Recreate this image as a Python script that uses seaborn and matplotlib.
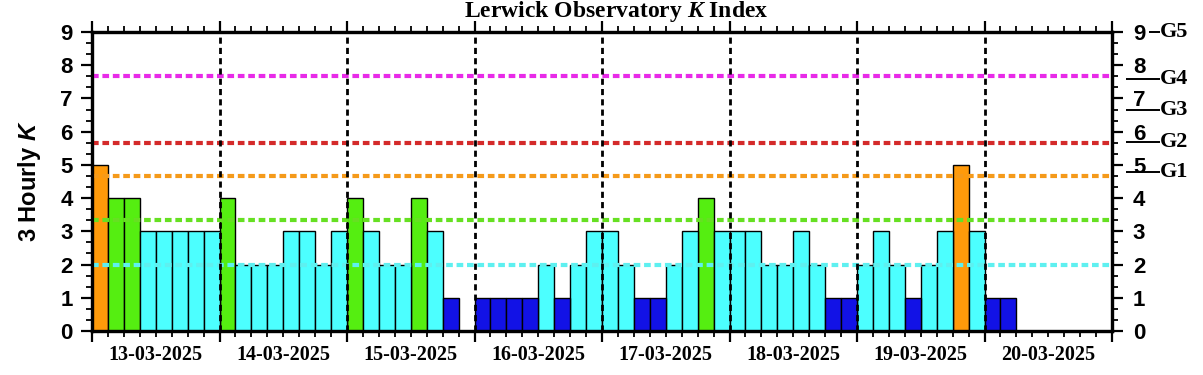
import numpy as np
import pandas as pd
import matplotlib
matplotlib.use("Agg")
import matplotlib.pyplot as plt
import seaborn as sns
from matplotlib.ticker import MultipleLocator

# ---------------- data ----------------
day_labels = ["13-03-2025", "14-03-2025", "15-03-2025", "16-03-2025",
              "17-03-2025", "18-03-2025", "19-03-2025", "20-03-2025"]
k_13 = [5, 4, 4, 3, 3, 3, 3, 3]
k_14 = [4, 2, 2, 2, 3, 3, 2, 3]
k_15 = [4, 3, 2, 2, 4, 3, 1, None]
k_16 = [1, 1, 1, 1, 2, 1, 2, 3]
k_17 = [3, 2, 1, 1, 2, 3, 4, 3]
k_18 = [3, 3, 2, 2, 3, 2, 1, 1]
k_19 = [2, 3, 2, 1, 2, 3, 5, 3]
k_20 = [1, 1]
k_by_day = [k_13, k_14, k_15, k_16, k_17, k_18, k_19, k_20]

threshold_levels = [2.0, 3.33, 4.67, 5.67, 7.67]
threshold_colors = ["#5ef0f0", "#66e022", "#f59a1a", "#d42a2a", "#e82ae8"]

g_labels = ["G1", "G2", "G3", "G4", "G5"]
g_levels = [4.8, 5.7, 6.65, 7.6, 9.0]

class_colors = {"quiet": "#1212e6", "unsettled": "#4cffff",
                "active": "#55ee11", "storm": "#ff9a0a"}


def k_class(k):
    if k <= 1:
        return "quiet"
    if k <= 3:
        return "unsettled"
    if k == 4:
        return "active"
    return "storm"


rows = []
for d, ks in enumerate(k_by_day):
    for s, k in enumerate(ks):
        if k is None:
            continue
        rows.append({"hour": d * 24 + s * 3 + 1.5, "k": k, "cls": k_class(k)})
df = pd.DataFrame(rows)

# ---------------- style ----------------
sns.set_theme(style="white")
plt.rcParams["font.family"] = ["Liberation Sans", "DejaVu Sans"]
plt.rcParams["text.color"] = "black"
plt.rcParams["axes.labelcolor"] = "black"
plt.rcParams["xtick.color"] = "black"
plt.rcParams["ytick.color"] = "black"
plt.rcParams["mathtext.fontset"] = "custom"
plt.rcParams["mathtext.it"] = "Liberation Serif:italic:bold"
plt.rcParams["mathtext.bfit"] = "Liberation Sans:italic:bold"
plt.rcParams["mathtext.rm"] = "Liberation Serif:bold"

W, H = 1203, 375
fig = plt.figure(figsize=(W / 100, H / 100), dpi=100)
fig.patch.set_facecolor("white")
left, right, top, bottom = 92, 1112, 32, 331
ax = fig.add_axes([left / W, 1 - bottom / H, (right - left) / W, (bottom - top) / H])

sns.barplot(data=df, x="hour", y="k", hue="cls", palette=class_colors,
            native_scale=True, dodge=False, width=1.0, saturation=1,
            edgecolor="black", linewidth=1.0, legend=False, ax=ax, zorder=2)

ax.set_xlim(0, 192)
ax.set_ylim(0, 9)
ax.set_xlabel("")

for lvl, c in zip(threshold_levels, threshold_colors):
    ax.axhline(lvl, color=c, lw=3, dashes=(1.6, 0.9), zorder=5)

for d in range(1, len(day_labels)):
    ax.axvline(d * 24, color="black", lw=2.0, dashes=(2.2, 1.5), zorder=6)

ax.xaxis.set_major_locator(MultipleLocator(24))
ax.xaxis.set_minor_locator(MultipleLocator(3))
ax.yaxis.set_major_locator(MultipleLocator(1))
ax.yaxis.set_minor_locator(MultipleLocator(1 / 3))
ax.tick_params(axis="both", which="major", direction="out", length=8, width=1.6,
               top=True, bottom=True, left=True, right=False, labelbottom=False,
               pad=6, labelsize=16, color="black", labelcolor="black")
ax.tick_params(axis="both", which="minor", direction="out", length=4.3, width=1.3,
               top=True, bottom=True, left=True, right=False, color="black")
for lab in ax.get_yticklabels():
    lab.set_fontweight("bold")

for sp in ax.spines.values():
    sp.set_linewidth(2.3)
    sp.set_color("black")

ax.set_ylabel(r"3 Hourly $\mathbfit{K}$", fontsize=17, fontweight="bold",
              color="black")
ax.yaxis.set_label_coords(-0.048, 0.5)

for i, lab in enumerate(day_labels):
    ax.text(12 + 24 * i, -(355 - bottom) / (bottom - top), lab,
            transform=ax.get_xaxis_transform(), ha="center", va="center",
            fontsize=14.5, fontweight="bold", family="Liberation Serif",
            color="black")

# right axis
ax2 = ax.twinx()
ax2.set_ylim(0, 9)
ax2.yaxis.set_major_locator(MultipleLocator(1))
ax2.yaxis.set_minor_locator(MultipleLocator(1 / 3))
ax2.tick_params(axis="y", which="major", direction="out", length=8, width=1.6,
                pad=7, labelsize=16, color="black", labelcolor="black")
ax2.tick_params(axis="y", which="minor", direction="out", length=4.3, width=1.3,
                color="black")
for lab in ax2.get_yticklabels():
    lab.set_fontweight("bold")
for sp in ax2.spines.values():
    sp.set_linewidth(2.3)
    sp.set_color("black")

tr = ax2.get_yaxis_transform()
x_line0 = (1126 - left) / (right - left)
x_g = (1160 - left) / (right - left)
x_dash0 = (1149 - left) / (right - left)
for lab, lvl in zip(g_labels, g_levels):
    x0 = x_dash0 if lvl >= 9 else x_line0
    ax2.plot([x0, x_g], [lvl, lvl], transform=tr, color="black", lw=1.4,
             clip_on=False, solid_capstyle="butt")
    ax2.text(x_g, lvl, lab, transform=tr, ha="left", va="center",
             fontsize=16, fontweight="bold", family="Liberation Serif",
             color="black")

fig.text(616 / W, 1 - 11 / H, r"Lerwick Observatory $\mathit{K}$ Index",
         ha="center", va="center", fontsize=17, fontweight="bold",
         family="Liberation Serif", color="black")

fig.savefig("out.png", dpi=100, facecolor="white")
